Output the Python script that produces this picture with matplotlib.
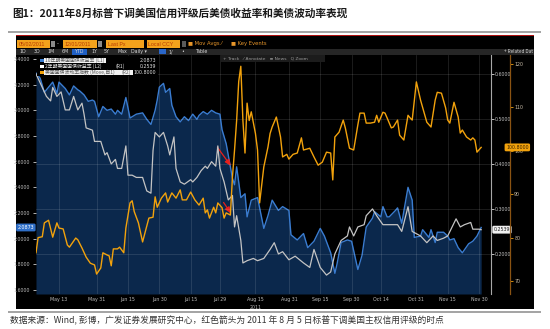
import matplotlib
matplotlib.use("Agg")
import numpy as np
import pandas as pd
import matplotlib.pyplot as plt
import matplotlib.transforms as mtransforms
from matplotlib.patches import Rectangle
from matplotlib.ticker import FormatStrFormatter

plt.rcParams['font.family'] = ['Noto Sans CJK SC', 'DejaVu Sans']

title = "图1：2011年8月标普下调美国信用评级后美债收益率和美债波动率表现"
source = "数据来源：Wind, 彭博，广发证券发展研究中心，红色箭头为 2011 年 8 月 5 日标普下调美国主权信用评级的时点"

# 10 year treasury yield (left axis)
y10_dates = ["05-02", "05-04", "05-06", "05-08", "05-10", "05-12", "05-13", "05-16", "05-18", "05-20",
             "05-22", "05-23", "05-25", "05-27", "05-29", "05-30", "06-01", "06-03", "06-05", "06-07",
             "06-09", "06-10", "06-12", "06-14", "06-16", "06-19", "06-22", "06-24", "06-26", "06-28",
             "06-29", "06-30", "07-02", "07-03", "07-05", "07-06", "07-08", "07-10", "07-12", "07-14",
             "07-16", "07-18", "07-19", "07-21", "07-23", "07-25", "07-27", "07-29", "07-30", "08-01",
             "08-03", "08-04", "08-05", "08-06", "08-08", "08-10", "08-11", "08-13", "08-16", "08-19",
             "08-21", "08-23", "08-26", "08-28", "08-31", "09-01", "09-04", "09-07", "09-09", "09-12",
             "09-15", "09-17", "09-20", "09-22", "09-23", "09-25", "09-28", "09-30", "10-03", "10-05",
             "10-07", "10-10", "10-11", "10-14", "10-15", "10-17", "10-18", "10-21", "10-22", "10-24",
             "10-27", "10-29", "10-30", "11-02", "11-03", "11-06", "11-07", "11-09", "11-10", "11-13",
             "11-15", "11-16", "11-18", "11-20", "11-22", "11-25", "11-27", "11-29", "12-01"]
y10 = [3.29, 3.25, 3.14, 3.18, 3.22, 3.13, 3.22, 3.17, 3.12, 3.19,
       3.16, 3.15, 3.12, 3.07, 3.08, 3.07, 2.95, 3.03, 3.00, 3.01,
       2.97, 3.00, 2.97, 3.10, 2.94, 2.97, 2.98, 2.93, 2.89, 3.00,
       3.08, 3.18, 3.21, 3.14, 3.17, 3.04, 2.95, 2.91, 2.95, 2.92,
       2.97, 2.93, 2.96, 2.99, 2.97, 3.00, 2.98, 2.97, 2.85, 2.74,
       2.56, 2.47, 2.42, 2.56, 2.32, 2.35, 2.17, 2.30, 2.32, 2.08,
       2.18, 2.30, 2.22, 2.25, 2.22, 2.03, 1.99, 2.04, 1.93, 1.98,
       2.08, 2.02, 1.89, 1.73, 1.80, 1.97, 1.99, 1.98, 1.76, 1.87,
       2.09, 2.16, 2.21, 2.17, 2.25, 2.17, 2.17, 2.22, 2.24, 2.12,
       2.40, 2.30, 2.01, 2.02, 2.07, 2.01, 2.07, 1.97, 2.05, 2.05,
       2.02, 1.99, 2.00, 1.93, 1.89, 1.96, 1.98, 2.02, 2.0873]

# 2 year treasury yield (R1)
y2_dates = ["05-02", "05-04", "05-06", "05-07", "05-09", "05-10", "05-12", "05-14", "05-16", "05-18",
            "05-20", "05-22", "05-24", "05-25", "05-26", "05-29", "05-30", "06-02", "06-03", "06-04",
            "06-05", "06-07", "06-09", "06-10", "06-12", "06-14", "06-15", "06-17", "06-19", "06-22",
            "06-24", "06-26", "06-27", "06-28", "06-30", "07-02", "07-04", "07-05", "07-07", "07-08",
            "07-10", "07-12", "07-15", "07-16", "07-18", "07-20", "07-22", "07-23", "07-25", "07-27",
            "07-28", "07-29", "07-31", "08-01", "08-02", "08-04", "08-05", "08-06", "08-08", "08-09",
            "08-11", "08-14", "08-16", "08-19", "08-22", "08-24", "08-26", "08-28", "08-31", "09-03",
            "09-07", "09-10", "09-12", "09-15", "09-18", "09-20", "09-22", "09-25", "09-28", "09-29",
            "10-01", "10-03", "10-06", "10-07", "10-10", "10-12", "10-15", "10-18", "10-22", "10-24",
            "10-27", "10-29", "11-02", "11-05", "11-08", "11-10", "11-13", "11-15", "11-19", "11-21",
            "11-23", "11-26", "11-27", "11-30", "12-01"]
y2 = [0.600, 0.580, 0.560, 0.550, 0.540, 0.570, 0.550, 0.560, 0.520, 0.520,
      0.550, 0.520, 0.535, 0.510, 0.480, 0.475, 0.450, 0.450, 0.435, 0.420,
      0.425, 0.400, 0.410, 0.390, 0.390, 0.440, 0.375, 0.375, 0.370, 0.370,
      0.340, 0.335, 0.430, 0.470, 0.460, 0.470, 0.440, 0.420, 0.460, 0.390,
      0.360, 0.355, 0.365, 0.360, 0.370, 0.385, 0.395, 0.390, 0.405, 0.395,
      0.440, 0.390, 0.360, 0.340, 0.320, 0.330, 0.260, 0.285, 0.230, 0.180,
      0.185, 0.190, 0.185, 0.190, 0.210, 0.225, 0.200, 0.205, 0.187, 0.195,
      0.180, 0.170, 0.210, 0.170, 0.153, 0.160, 0.200, 0.230, 0.240, 0.260,
      0.240, 0.260, 0.265, 0.285, 0.300, 0.285, 0.265, 0.265, 0.265, 0.250,
      0.305, 0.250, 0.240, 0.225, 0.240, 0.230, 0.235, 0.240, 0.278, 0.260,
      0.265, 0.270, 0.255, 0.255, 0.2539]

# MOVE index (R2)
move_dates = ["05-02", "05-03", "05-05", "05-06", "05-08", "05-10", "05-12", "05-13", "05-15", "05-17",
              "05-18", "05-21", "05-22", "05-24", "05-26", "05-28", "05-30", "05-31", "06-02", "06-03",
              "06-05", "06-06", "06-07", "06-08", "06-10", "06-11", "06-13", "06-14", "06-16", "06-17",
              "06-18", "06-20", "06-22", "06-25", "06-27", "06-28", "06-29", "07-01", "07-03", "07-04",
              "07-06", "07-08", "07-10", "07-11", "07-13", "07-15", "07-17", "07-19", "07-21", "07-22",
              "07-23", "07-24", "07-26", "07-27", "07-28", "07-30", "07-31", "08-01", "08-03", "08-04",
              "08-05", "08-06", "08-07", "08-08", "08-09", "08-10", "08-11", "08-12", "08-13", "08-15",
              "08-16", "08-17", "08-19", "08-21", "08-22", "08-23", "08-25", "08-27", "08-28", "08-30",
              "08-31", "09-02", "09-04", "09-06", "09-07", "09-10", "09-12", "09-14", "09-16", "09-18",
              "09-20", "09-21", "09-22", "09-24", "09-26", "09-27", "09-29", "10-01", "10-03", "10-04",
              "10-06", "10-07", "10-09", "10-11", "10-12", "10-13", "10-15", "10-16", "10-17", "10-19",
              "10-20", "10-22", "10-23", "10-25", "10-26", "10-27", "10-28", "10-29", "10-31", "11-02",
              "11-05", "11-07", "11-09", "11-10", "11-12", "11-14", "11-15", "11-16", "11-18", "11-20",
              "11-21", "11-22", "11-24", "11-26", "11-27", "11-28", "11-29", "12-01"]
move = [76.5, 80.0, 80.2, 83.4, 84.0, 80.1, 83.4, 82.2, 82.0, 78.3,
        77.8, 79.9, 79.5, 77.6, 75.5, 74.1, 73.7, 71.6, 73.0, 76.5,
        76.0, 75.8, 73.5, 77.4, 77.4, 77.8, 76.5, 82.2, 88.0, 88.5,
        86.0, 83.4, 79.0, 84.5, 84.7, 89.4, 87.0, 89.1, 90.3, 88.2,
        90.3, 89.1, 91.0, 88.7, 88.7, 90.5, 88.7, 87.5, 89.1, 85.7,
        86.4, 84.5, 87.0, 85.7, 88.0, 86.9, 84.5, 85.7, 85.2, 94.0,
        100.2, 107.0, 116.0, 119.5, 107.0, 99.5, 111.0, 107.0, 109.0, 104.0,
        100.2, 88.0, 96.3, 100.9, 104.0, 105.5, 107.8, 103.2, 98.6, 99.2,
        98.1, 99.2, 99.5, 103.0, 100.2, 100.6, 98.6, 96.7, 97.4, 99.7,
        99.5, 93.3, 103.2, 104.3, 107.1, 105.3, 100.6, 100.2, 106.0, 108.7,
        108.7, 106.4, 106.4, 106.6, 108.2, 106.6, 108.9, 108.7, 107.6, 105.3,
        105.5, 107.1, 103.6, 102.5, 105.3, 108.2, 107.6, 107.1, 115.9, 111.7,
        106.6, 105.5, 111.7, 113.5, 113.3, 109.9, 107.1, 106.4, 111.2, 107.8,
        104.1, 104.8, 103.2, 102.5, 103.0, 102.5, 99.7, 100.8]

tick_dates = ["05-13", "05-31", "06-15", "06-30", "07-15", "07-29", "08-15",
              "08-31", "09-15", "09-30", "10-14", "10-31", "11-15", "11-30"]
tick_labels = ["May 13", "May 31", "Jun 15", "Jun 30", "Jul 15", "Jul 29", "Aug 15",
               "Aug 31", "Sep 15", "Sep 30", "Oct 14", "Oct 31", "Nov 15", "Nov 30"]

legend_names = ["10年期美国国债收益率 (L1)", "2年期美国国债收益率 (L2)", "美国国债波动率指数 (Move,自1)"]


def to_dt(days):
    return pd.to_datetime(["2011-" + d for d in days])


BLUE = "#3a7cd0"
NAVY = "#0b284c"
GREY_LINE = "#c4c4c4"
ORANGE = "#f2a20c"
TXT = "#bdbdbd"

W, H = 550, 329
fig = plt.figure(figsize=(W / 100, H / 100), dpi=100)
fig.patch.set_facecolor("white")


def fbox(x0, y0, x1, y1):
    return [x0 / W, 1 - y1 / H, (x1 - x0) / W, (y1 - y0) / H]


def rect(x0, y0, x1, y1, color, z=0):
    fig.add_artist(Rectangle((x0 / W, 1 - y1 / H), (x1 - x0) / W, (y1 - y0) / H,
                             transform=fig.transFigure, color=color, lw=0, zorder=z))


def ptext(x, y, s, **kw):
    kw.setdefault("va", "center")
    fig.text(x / W, 1 - y / H, s, **kw)


# title, rules, source line
ptext(12, 13, title, fontsize=7.7, fontweight="bold", color="#1a1a1a")
rect(8, 30.5, 541, 32.5, "#a5a5a5")
rect(8, 311, 541, 313, "#a5a5a5")
ptext(10, 321, source, fontsize=6.3, color="#333333")

# terminal panel
rect(16, 35, 534, 309, "black")
rect(16, 35, 534, 36.3, "#b01010", z=1)

# first toolbar row
for x0, x1, s in [(17, 50, "05/02/2011"), (63, 97, "12/01/2011"),
                  (106, 144, "Last Px"), (147, 180, "Local CCY")]:
    rect(x0, 40, x1, 48, "#f3a21c", z=1)
    ptext(x0 + 1.5, 44, s, fontsize=3.8, color="#b83a00", family="Liberation Sans", zorder=2)
for x0 in (51, 98):
    rect(x0, 41, x0 + 4, 47, "#8a8a8a", z=1)
ptext(57.5, 44, "-", fontsize=4, color="white", ha="center")
rect(181.5, 41, 185.5, 47, "#5a5a5a", z=1)
ptext(188, 44, "■ Mov Avgs ⁄", fontsize=3.8, color="#e8962a", family="DejaVu Sans")
ptext(231, 44, "■ Key Events", fontsize=3.8, color="#e8962a", family="DejaVu Sans")

# second toolbar row
rect(16, 48.5, 534, 55, "#262626", z=1)
rect(72, 48.8, 87, 54.7, "#1f5fc4", z=1)
for x, s in [(23, "1D"), (37, "3D"), (51, "1M"), (65, "6M"), (79.5, "YTD"), (94, "1Y"),
             (107, "5Y"), (122, "Max"), (139, "Daily ▾"), (171, "1/"), (183, "•"), (202, "Table")]:
    ptext(x, 51.8, s, fontsize=3.4, color="#d8d8d8", ha="center", family="DejaVu Sans", zorder=2)
rect(159, 49.5, 166, 54, "#2a66c8", z=1)
ptext(533, 51.8, "+ Related Dat", fontsize=3.4, color="#d8d8d8", ha="right", zorder=2)

# chart
ax = fig.add_axes(fbox(36, 55, 491, 294))
ax.set_facecolor("black")
ax_r1 = ax.twinx()
ax_r2 = ax.twinx()

x10 = to_dt(y10_dates)
x2 = to_dt(y2_dates)
xm = to_dt(move_dates)

lo = 1.569
ax.set_ylim(lo, 3.431)
ax_r1.set_ylim(0.111, 0.642)
ax_r2.set_ylim(67.0, 122.1)
ax.set_xlim(pd.Timestamp("2011-05-02"), pd.Timestamp("2011-12-05 17:00"))

ax.fill_between(x10, y10, lo, color=NAVY, lw=0)
ax.plot(x10, y10, color=BLUE, lw=1.0)
ax_r1.plot(x2, y2, color=GREY_LINE, lw=0.9)
ax_r2.plot(xm, move, color=ORANGE, lw=1.0)

ax.grid(axis="x", color="white", alpha=0.13, lw=0.6)
ax_r1.grid(axis="y", color="white", alpha=0.13, lw=0.6)

for a in (ax, ax_r1, ax_r2):
    for sp in a.spines.values():
        sp.set_visible(False)

ax.set_yticks(np.arange(1.6, 3.41, 0.2))
ax.yaxis.set_major_formatter(FormatStrFormatter("%.4f"))
ax.tick_params(axis="y", length=2.5, width=0.6, color="#d0d0d0", labelsize=3.4,
               labelcolor=TXT, pad=1.5)
ax.set_xticks(to_dt(tick_dates))
ax.set_xticklabels(tick_labels)
ax.tick_params(axis="x", length=0, labelsize=3.4, labelcolor=TXT, pad=2.5)
for lab in ax.get_xticklabels() + ax.get_yticklabels():
    lab.set_family("DejaVu Sans")
ax.text(pd.Timestamp("2011-08-15"), -0.048, "2011", fontsize=3.4, color=TXT, ha="center", va="top",
        transform=mtransforms.blended_transform_factory(ax.transData, ax.transAxes), family="DejaVu Sans")

ax_r1.spines["right"].set_visible(True)
ax_r1.spines["right"].set_color("#a8a8a8")
ax_r1.spines["right"].set_linewidth(0.8)
ax_r1.set_yticks(np.arange(0.2, 0.61, 0.1))
ax_r1.yaxis.set_major_formatter(FormatStrFormatter("%.4f"))
ax_r1.tick_params(axis="y", length=2, width=0.6, color="#e0e0e0", labelsize=3.4,
                  labelcolor=TXT, pad=1)

ax_r2.spines["right"].set_visible(True)
ax_r2.spines["right"].set_position(("outward", 13.7))
ax_r2.spines["right"].set_color("#8a5312")
ax_r2.spines["right"].set_linewidth(0.9)
ax_r2.set_yticks(np.arange(70, 121, 10))
ax_r2.tick_params(axis="y", length=2, width=0.6, color=ORANGE, labelsize=3.4,
                  labelcolor="#c8bca8", pad=1)
for a in (ax_r1, ax_r2):
    for lab in a.get_yticklabels():
        lab.set_family("DejaVu Sans")

# last value tags
ax.text(-0.004, y10[-1], f"{y10[-1]:.4f}", fontsize=3.4, color="white", ha="right", va="center",
        transform=mtransforms.blended_transform_factory(ax.transAxes, ax.transData), family="DejaVu Sans",
        bbox=dict(boxstyle="round,pad=0.3", fc="#2f6fc8", ec="none"), clip_on=False)
ax_r1.text(1.006, y2[-1], f"{y2[-1]:.4f}", fontsize=3.4, color="#202020", ha="left", va="center",
           transform=mtransforms.blended_transform_factory(ax_r1.transAxes, ax_r1.transData),
           family="DejaVu Sans", bbox=dict(boxstyle="round,pad=0.3", fc="#f0f0f0", ec="none"),
           clip_on=False)
ax_r2.text(1.033, move[-1], f"{move[-1]:.4f}", fontsize=3.4, color="#3a2200", ha="left", va="center",
           transform=mtransforms.blended_transform_factory(ax_r2.transAxes, ax_r2.transData),
           family="DejaVu Sans", bbox=dict(boxstyle="round,pad=0.3", fc=ORANGE, ec="none"),
           clip_on=False, zorder=5)

# arrows marking the downgrade
arrow = dict(arrowstyle="-|>,head_length=0.35,head_width=0.15", color="#e8201c", lw=0.9)
ax.annotate("", xy=(pd.Timestamp("2011-08-04"), 2.55), xytext=(pd.Timestamp("2011-07-27"), 2.73),
            arrowprops=arrow)
ax.annotate("", xy=(pd.Timestamp("2011-08-04"), 2.18), xytext=(pd.Timestamp("2011-07-30"), 2.30),
            arrowprops=arrow)

# chart toolbar and legend
rect(221, 54.5, 325, 62, "#1c1c1c", z=3)
ptext(223, 58.3, "+ Track   ⁄ Annotate   ≡ News   Q Zoom", fontsize=3.2, color="#9a9a9a",
      family="DejaVu Sans", zorder=4)

rect(37, 56, 158, 75.5, "black", z=3)
rows_y = [60.5, 66.5, 72.5]
values = [f"{y10[-1]:.4f}", f"{y2[-1]:.4f}", f"{move[-1]:.4f}"]
swatch = [BLUE, "white", ORANGE]
for i, y in enumerate(rows_y):
    rect(40, y - 1.8, 43.5, y + 1.8, swatch[i], z=4)
    ptext(156, y, values[i], fontsize=3.4, color="#e0e0e0", ha="right", family="DejaVu Sans", zorder=4)
rect(44, 58.3, 106, 62.7, "#f2f2f2", z=4)
ptext(45, 60.5, legend_names[0], fontsize=3.5, color="#555555", zorder=5)
ptext(45, 66.5, legend_names[1], fontsize=3.5, color="#eeeeee", zorder=5)
ptext(116, 66.5, "(R1)", fontsize=3.5, color="#eeeeee", zorder=5)
rect(44, 70.3, 133, 74.7, "#f2f2f2", z=4)
ptext(45, 72.5, legend_names[2], fontsize=3.5, color="#555555", zorder=5)
ptext(121, 72.5, "(R2)", fontsize=3.5, color="#555555", zorder=5)

fig.savefig("out.png", dpi=100)
